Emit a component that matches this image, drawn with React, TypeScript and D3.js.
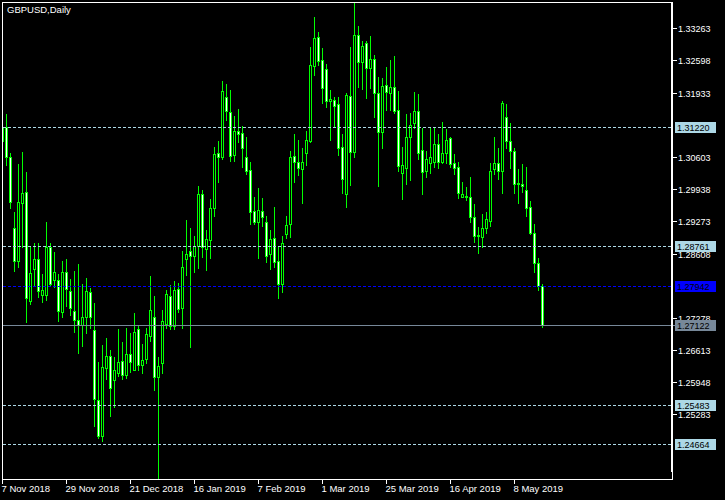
import React, { useEffect, useRef } from 'react';
import * as d3 from 'd3';

const title = 'GBPUSD,Daily';

const openP = [
  1.3093, 1.3122, 1.3060, 1.2914, 1.2845, 1.2965, 1.2988, 1.2763, 1.2829, 1.2850,
  1.2775, 1.2775, 1.2874, 1.2806, 1.2806, 1.2740, 1.2823, 1.2783, 1.2742, 1.2724,
  1.2713, 1.2730, 1.2781, 1.2703, 1.2558, 1.2484, 1.2624, 1.2649, 1.2600, 1.2614,
  1.2639, 1.2610, 1.2653, 1.2620, 1.2705, 1.2631, 1.2643, 1.2690, 1.2730, 1.2606,
  1.2635, 1.2715, 1.2773, 1.2711, 1.2788, 1.2748, 1.2850, 1.2866, 1.2856, 1.2876,
  1.2984, 1.2870, 1.2889, 1.2955, 1.3069, 1.3060, 1.3184, 1.3153, 1.3065, 1.3114,
  1.3110, 1.3060, 1.3034, 1.2949, 1.2926, 1.2949, 1.2926, 1.2860, 1.2893, 1.2845,
  1.2798, 1.2901, 1.2922, 1.3062, 1.3050, 1.3036, 1.3069, 1.3093, 1.3248, 1.3308,
  1.3261, 1.3242, 1.3176, 1.3178, 1.3170, 1.3081, 1.2984, 1.3186, 1.3071, 1.3313,
  1.3257, 1.3296, 1.3244, 1.3263, 1.3193, 1.3112, 1.3209, 1.3193, 1.3205, 1.3158,
  1.3027, 1.3038, 1.3102, 1.3131, 1.3155, 1.3075, 1.3031, 1.3048, 1.3050, 1.3087,
  1.3050, 1.3069, 1.3100, 1.3048, 1.3040, 1.2978, 1.2980, 1.2978, 1.2936, 1.2897,
  1.2895, 1.2914, 1.2928, 1.3036, 1.3048, 1.3031, 1.3143, 1.3093, 1.3073, 1.3005,
  1.3005, 1.2992, 1.2957, 1.2903, 1.2841, 1.2794,
];

const highP = [
  1.3127, 1.3149, 1.3069, 1.2947, 1.3046, 1.3071, 1.3029, 1.2876, 1.2883, 1.2883,
  1.2819, 1.2926, 1.2883, 1.2864, 1.2819, 1.2845, 1.2850, 1.2808, 1.2825, 1.2839,
  1.2798, 1.2810, 1.2790, 1.2759, 1.2637, 1.2672, 1.2686, 1.2662, 1.2647, 1.2705,
  1.2678, 1.2707, 1.2697, 1.2738, 1.2713, 1.2674, 1.2707, 1.2814, 1.2773, 1.2647,
  1.2744, 1.2786, 1.2796, 1.2804, 1.2800, 1.2866, 1.2930, 1.2914, 1.2897, 1.3000,
  1.2992, 1.2910, 1.2974, 1.3081, 1.3093, 1.3217, 1.3211, 1.3199, 1.3145, 1.3160,
  1.3124, 1.3102, 1.3050, 1.2978, 1.2996, 1.2976, 1.2939, 1.2910, 1.2957, 1.2874,
  1.2897, 1.2939, 1.3073, 1.3108, 1.3096, 1.3079, 1.3114, 1.3288, 1.3350, 1.3319,
  1.3286, 1.3253, 1.3199, 1.3184, 1.3184, 1.3108, 1.3193, 1.3288, 1.3379, 1.3331,
  1.3300, 1.3300, 1.3310, 1.3271, 1.3226, 1.3224, 1.3246, 1.3261, 1.3269, 1.3197,
  1.3081, 1.3149, 1.3151, 1.3195, 1.3191, 1.3120, 1.3073, 1.3120, 1.3120, 1.3108,
  1.3133, 1.3118, 1.3102, 1.3067, 1.3050, 1.3009, 1.2998, 1.3019, 1.2963, 1.2916,
  1.2943, 1.2947, 1.3048, 1.3102, 1.3079, 1.3176, 1.3170, 1.3131, 1.3079, 1.3036,
  1.3046, 1.3040, 1.2969, 1.2922, 1.2852, 1.2798,
];

const lowP = [
  1.3089, 1.3044, 1.2955, 1.2825, 1.2833, 1.2874, 1.2719, 1.2757, 1.2796, 1.2771,
  1.2761, 1.2765, 1.2796, 1.2792, 1.2721, 1.2730, 1.2753, 1.2734, 1.2699, 1.2655,
  1.2670, 1.2697, 1.2707, 1.2505, 1.2480, 1.2474, 1.2602, 1.2525, 1.2544, 1.2608,
  1.2602, 1.2604, 1.2616, 1.2620, 1.2620, 1.2614, 1.2635, 1.2680, 1.2579, 1.2393,
  1.2614, 1.2707, 1.2705, 1.2705, 1.2740, 1.2707, 1.2817, 1.2668, 1.2823, 1.2831,
  1.2854, 1.2827, 1.2852, 1.2939, 1.3009, 1.3056, 1.3137, 1.3052, 1.3052, 1.3091,
  1.3040, 1.3025, 1.2922, 1.2922, 1.2852, 1.2918, 1.2843, 1.2829, 1.2833, 1.2769,
  1.2781, 1.2893, 1.2895, 1.3009, 1.3023, 1.2965, 1.3044, 1.3091, 1.3230, 1.3250,
  1.3172, 1.3164, 1.3096, 1.3122, 1.3065, 1.2986, 1.2957, 1.3003, 1.3060, 1.3205,
  1.3201, 1.3182, 1.3203, 1.3143, 1.3000, 1.3079, 1.3158, 1.3158, 1.3151, 1.3031,
  1.2974, 1.3005, 1.3013, 1.3120, 1.3056, 1.2984, 1.3019, 1.3027, 1.3040, 1.3038,
  1.3048, 1.3048, 1.3040, 1.3025, 1.2976, 1.2978, 1.2972, 1.2926, 1.2885, 1.2862,
  1.2874, 1.2903, 1.2918, 1.3025, 1.3015, 1.2986, 1.3079, 1.3038, 1.2986, 1.2965,
  1.2988, 1.2939, 1.2901, 1.2823, 1.2786, 1.2709,
];

const closeP = [
  1.3122, 1.3060, 1.2967, 1.2845, 1.2967, 1.2986, 1.2769, 1.2821, 1.2850, 1.2783,
  1.2786, 1.2874, 1.2798, 1.2823, 1.2742, 1.2823, 1.2788, 1.2748, 1.2724, 1.2713,
  1.2730, 1.2783, 1.2730, 1.2560, 1.2484, 1.2626, 1.2649, 1.2583, 1.2620, 1.2637,
  1.2610, 1.2653, 1.2637, 1.2699, 1.2631, 1.2641, 1.2695, 1.2744, 1.2606, 1.2628,
  1.2721, 1.2777, 1.2711, 1.2786, 1.2746, 1.2833, 1.2860, 1.2856, 1.2876, 1.2984,
  1.2874, 1.2891, 1.2955, 1.3067, 1.3060, 1.3197, 1.3155, 1.3062, 1.3114, 1.3108,
  1.3079, 1.3031, 1.2947, 1.2926, 1.2951, 1.2936, 1.2856, 1.2891, 1.2843, 1.2798,
  1.2883, 1.2920, 1.3060, 1.3050, 1.3038, 1.3050, 1.3096, 1.3250, 1.3306, 1.3259,
  1.3203, 1.3176, 1.3180, 1.3166, 1.3079, 1.3015, 1.3189, 1.3071, 1.3313, 1.3257,
  1.3290, 1.3244, 1.3263, 1.3193, 1.3112, 1.3207, 1.3195, 1.3205, 1.3155, 1.3042,
  1.3044, 1.3102, 1.3127, 1.3155, 1.3069, 1.3029, 1.3056, 1.3060, 1.3087, 1.3050,
  1.3069, 1.3096, 1.3046, 1.3038, 1.2986, 1.2984, 1.2978, 1.2936, 1.2897, 1.2899,
  1.2914, 1.2932, 1.3031, 1.3048, 1.3031, 1.3172, 1.3093, 1.3073, 1.3005, 1.3007,
  1.3000, 1.2955, 1.2903, 1.2841, 1.2794, 1.27122,
];

const dateTickLabels = [
  '7 Nov 2018', '29 Nov 2018', '21 Dec 2018', '16 Jan 2019', '7 Feb 2019',
  '1 Mar 2019', '25 Mar 2019', '16 Apr 2019', '8 May 2019',
];
const dateTickBars = [0, 16, 32, 48, 64, 80, 96, 112, 128];

const priceTicks = [
  1.33263, 1.32598, 1.31933, 1.30603, 1.29938, 1.29273, 1.28608,
  1.27278, 1.26613, 1.25948, 1.25283,
];
const levelLines = [1.3122, 1.28761, 1.25483, 1.24664];
const blueLevel = 1.27942;
const bidPrice = 1.27122;

const priceMin = 1.2395;
const priceMax = 1.33806;

export default function App() {
  const ref = useRef<SVGSVGElement>(null);

  useEffect(() => {
    const svg = d3.select(ref.current);
    svg.selectAll('*').remove();

    const W = 725;
    const H = 500;
    const left = 2;
    const top = 2;
    const right = 672;
    const bottom = 479;
    const green = '#00ff00';
    const font = '"Liberation Sans", Arial, sans-serif';

    svg.append('rect').attr('width', W).attr('height', H).attr('fill', '#000');

    const n = openP.length;
    const x = d3.scaleLinear().domain([0, n - 1]).range([2.5, 2.5 + 4 * (n - 1)]);
    const y = d3.scaleLinear().domain([priceMin, priceMax]).range([bottom, top]);

    svg.append('defs').append('clipPath').attr('id', 'plotclip')
      .append('rect').attr('x', left + 1).attr('y', top + 1)
      .attr('width', right - left - 1).attr('height', bottom - top - 1);

    const plot = svg.append('g').attr('clip-path', 'url(#plotclip)');

    const idx = d3.range(n);
    // wicks
    plot.append('g').selectAll('line').data(idx).join('line')
      .attr('x1', (i) => x(i)).attr('x2', (i) => x(i))
      .attr('y1', (i) => Math.round(y(highP[i])))
      .attr('y2', (i) => Math.round(y(lowP[i])) + 1)
      .attr('stroke', green).attr('stroke-width', 1)
      .attr('shape-rendering', 'crispEdges');

    // bodies
    const bodies = plot.append('g');
    idx.forEach((i) => {
      const o = openP[i];
      const c = closeP[i];
      const yt = Math.round(y(Math.max(o, c)));
      const yb = Math.round(y(Math.min(o, c)));
      const cx = x(i);
      if (yb - yt < 1) {
        bodies.append('line')
          .attr('x1', cx - 1.5).attr('x2', cx + 1.5)
          .attr('y1', yt + 0.5).attr('y2', yt + 0.5)
          .attr('stroke', green).attr('stroke-width', 1)
          .attr('shape-rendering', 'crispEdges');
      } else {
        bodies.append('rect')
          .attr('x', cx - 1).attr('width', 2)
          .attr('y', yt + 0.5).attr('height', yb - yt)
          .attr('fill', c < o ? '#ffffff' : '#000000')
          .attr('stroke', green).attr('stroke-width', 1)
          .attr('shape-rendering', 'crispEdges');
      }
    });

    // horizontal levels
    const lines = svg.append('g');
    levelLines.forEach((p) => {
      const yy = Math.round(y(p)) + 0.5;
      lines.append('line').attr('x1', left + 1).attr('x2', right - 1)
        .attr('y1', yy).attr('y2', yy)
        .attr('stroke', '#add8e6').attr('stroke-width', 1)
        .attr('stroke-dasharray', '3,2').attr('shape-rendering', 'crispEdges');
    });
    {
      const yy = Math.round(y(blueLevel)) + 0.5;
      lines.append('line').attr('x1', left + 1).attr('x2', right - 1)
        .attr('y1', yy).attr('y2', yy)
        .attr('stroke', '#0000ff').attr('stroke-width', 1)
        .attr('stroke-dasharray', '3,2').attr('shape-rendering', 'crispEdges');
    }
    {
      const yy = Math.round(y(bidPrice)) + 0.5;
      lines.append('line').attr('x1', left + 1).attr('x2', right + 4)
        .attr('y1', yy).attr('y2', yy)
        .attr('stroke', '#778899').attr('stroke-width', 1)
        .attr('shape-rendering', 'crispEdges');
    }

    // frame
    svg.append('rect').attr('x', left + 0.5).attr('y', top + 0.5)
      .attr('width', right - left).attr('height', bottom - top)
      .attr('fill', 'none').attr('stroke', '#fff').attr('stroke-width', 1)
      .attr('shape-rendering', 'crispEdges');
    svg.append('line').attr('x1', right).attr('x2', right)
      .attr('y1', top).attr('y2', 472)
      .attr('stroke', '#fff').attr('stroke-width', 2)
      .attr('shape-rendering', 'crispEdges');

    // price axis
    const axis = svg.append('g');
    priceTicks.forEach((p) => {
      const yy = Math.round(y(p));
      axis.append('line').attr('x1', right + 1).attr('x2', right + 5)
        .attr('y1', yy + 0.5).attr('y2', yy + 0.5)
        .attr('stroke', '#fff').attr('stroke-width', 1)
        .attr('shape-rendering', 'crispEdges');
      axis.append('text').attr('x', right + 6).attr('y', yy + 4)
        .attr('fill', '#fff').attr('font-family', font).attr('font-size', 9)
        .text(p.toFixed(5));
    });

    const boxes: [number, string, string][] = [
      ...levelLines.map((p) => [p, '#add8e6', '#000'] as [number, string, string]),
      [blueLevel, '#0000ff', '#000'],
      [bidPrice, '#778899', '#000'],
    ];
    boxes.forEach(([p, bg, fg]) => {
      const yy = Math.round(y(p));
      axis.append('rect').attr('x', right + 3).attr('y', yy - 5)
        .attr('width', 41).attr('height', 11).attr('fill', bg);
      axis.append('text').attr('x', right + 5).attr('y', yy + 4)
        .attr('fill', fg).attr('font-family', font).attr('font-size', 9)
        .text(p.toFixed(5));
    });

    // time axis
    const taxis = svg.append('g');
    dateTickBars.forEach((b, k) => {
      const xx = x(b);
      taxis.append('line').attr('x1', xx).attr('x2', xx)
        .attr('y1', bottom + 1).attr('y2', bottom + 5)
        .attr('stroke', '#fff').attr('stroke-width', 1)
        .attr('shape-rendering', 'crispEdges');
      taxis.append('text').attr('x', xx - 1).attr('y', 492)
        .attr('fill', '#fff').attr('font-family', font).attr('font-size', 9.5)
        .text(dateTickLabels[k]);
    });

    svg.append('text').attr('x', 7).attr('y', 13)
      .attr('fill', '#fff').attr('font-family', font).attr('font-size', 9.5)
      .text(title);
  }, []);

  return (
    <svg
      ref={ref}
      width={725}
      height={500}
      style={{ position: 'absolute', left: 0, top: 0, display: 'block', background: '#000' }}
    />
  );
}
